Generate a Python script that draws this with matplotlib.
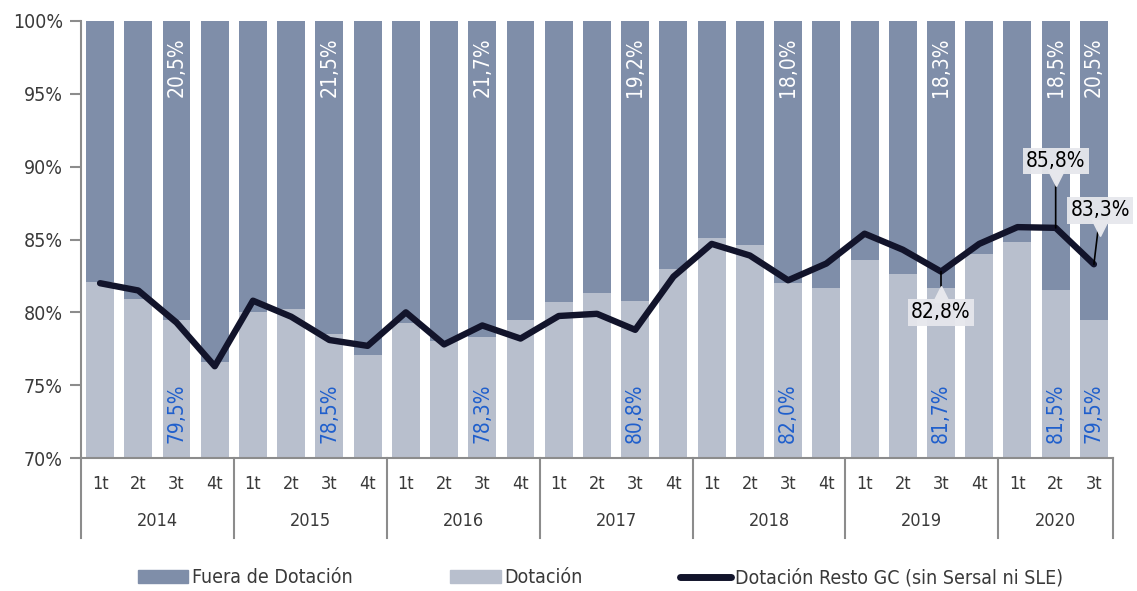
import matplotlib
matplotlib.use('Agg')
import matplotlib.pyplot as plt
import matplotlib.transforms as mtransforms
from matplotlib.lines import Line2D
from matplotlib.patches import Patch

plt.rcParams['font.family'] = ['DejaVu Sans']
plt.rcParams['font.stretch'] = 'condensed'

years = ['2014', '2015', '2016', '2017', '2018', '2019', '2020']
quarters_per_year = [4, 4, 4, 4, 4, 4, 3]
quarter_names = ['1t', '2t', '3t', '4t']

# Dotación share (%) per quarter
dotacion = [82.1, 80.9, 79.5, 76.6,
            80.0, 80.2, 78.5, 77.1,
            79.3, 78.0, 78.3, 79.5,
            80.7, 81.3, 80.8, 83.0,
            85.1, 84.6, 82.0, 81.7,
            83.6, 82.6, 81.7, 84.0,
            84.85, 81.5, 79.5]
fuera = [100 - v for v in dotacion]

# Dotación Resto GC (sin Sersal ni SLE)
resto = [82.0, 81.5, 79.3, 76.3,
         80.8, 79.7, 78.1, 77.7,
         80.0, 77.8, 79.1, 78.2,
         79.75, 79.9, 78.8, 82.45,
         84.7, 83.9, 82.2, 83.35,
         85.4, 84.3, 82.8, 84.7,
         85.85, 85.8, 83.3]

# labelled quarters
label_idx = [2, 6, 10, 14, 18, 22, 25, 26]
label_dot = ['79,5%', '78,5%', '78,3%', '80,8%', '82,0%', '81,7%', '81,5%', '79,5%']
label_fuera = ['20,5%', '21,5%', '21,7%', '19,2%', '18,0%', '18,3%', '18,5%', '20,5%']

# callouts on the line: (index, text, box offset x, box offset y)
callouts = [(25, '85,8%', 0.0, 4.6), (26, '83,3%', 0.17, 3.7), (22, '82,8%', 0.0, -2.8)]

c_dark = '#7f8ea9'
c_light = '#b8bfcd'
c_line = '#12142b'
c_blue = '#1f5fcc'
c_axis = '#8c8c8c'
c_text = '#3a3a3a'

x = list(range(len(dotacion)))
q_labels = []
for n in quarters_per_year:
    q_labels += quarter_names[:n]

fig = plt.figure(figsize=(11.37, 5.91), dpi=100)
ax = fig.add_axes([0.0712, 0.225, 0.9077, 0.7395])

ax.bar(x, dotacion, width=0.73, color=c_light, zorder=2)
ax.bar(x, fuera, bottom=dotacion, width=0.73, color=c_dark, zorder=2)
ax.plot(x, resto, color=c_line, lw=4.6, solid_capstyle='round', zorder=4)

for i, t1, t2 in zip(label_idx, label_dot, label_fuera):
    ax.text(i, 71.0, t1, rotation=90, ha='center', va='bottom', color=c_blue,
            fontsize=15, zorder=5)
    ax.text(i, 98.9, t2, rotation=90, ha='center', va='top', color='white',
            fontsize=15, zorder=5)

box_c = '#e6e7ec'
for i, t, dx, dy in callouts:
    ty = resto[i] + dy
    ax.annotate(t, xy=(i, resto[i]), xytext=(i + dx, ty), ha='center', va='center',
                fontsize=15, color='black', zorder=7, annotation_clip=False,
                bbox=dict(boxstyle='square,pad=0.16', fc=box_c, ec='none', alpha=0.95),
                arrowprops=dict(arrowstyle='-', color='black', lw=1.2,
                                shrinkA=0, shrinkB=0))
    wy = ty - 1.2 if dy > 0 else ty + 1.25
    ax.plot(i + dx, wy, marker='v' if dy > 0 else '^', ms=11, color=box_c,
            zorder=8, clip_on=False)

ax.set_xlim(-0.5, len(x) - 0.5)
ax.set_ylim(70, 100)
ax.set_yticks([70, 75, 80, 85, 90, 95, 100])
ax.set_yticklabels([f'{v}%' for v in [70, 75, 80, 85, 90, 95, 100]])
ax.tick_params(axis='y', labelsize=14, colors=c_axis, length=8, width=1.5,
               labelcolor=c_text, pad=5)
ax.set_xticks(x)
ax.set_xticklabels(q_labels)
ax.tick_params(axis='x', length=0, labelsize=13, labelcolor=c_text, pad=12)

for s in ['top', 'right']:
    ax.spines[s].set_visible(False)
for s in ['left', 'bottom']:
    ax.spines[s].set_color(c_axis)
    ax.spines[s].set_linewidth(1.5)

trans = mtransforms.blended_transform_factory(ax.transData, ax.transAxes)
start = -0.5
for yr, n in zip(years, quarters_per_year):
    ax.plot([start, start], [0, -0.183], color=c_axis, lw=1.5, transform=trans,
            clip_on=False)
    ax.text(start + n / 2, -0.144, yr, transform=trans, ha='center', va='center',
            fontsize=13, color=c_text)
    start += n
ax.plot([start, start], [0, -0.183], color=c_axis, lw=1.5, transform=trans,
        clip_on=False)

handles = [Patch(color=c_dark), Patch(color=c_light),
           Line2D([0], [0], color=c_line, lw=5, solid_capstyle='round')]
fig.legend(handles, ['Fuera de Dotación', 'Dotación', 'Dotación Resto GC (sin Sersal ni SLE)'],
           loc='center', bbox_to_anchor=(0.528, 0.022), ncol=3, frameon=False,
           fontsize=14, handlelength=2.6, handletextpad=0.2, columnspacing=5.0,
           labelcolor=c_text)

fig.savefig('out.png', dpi=100)
